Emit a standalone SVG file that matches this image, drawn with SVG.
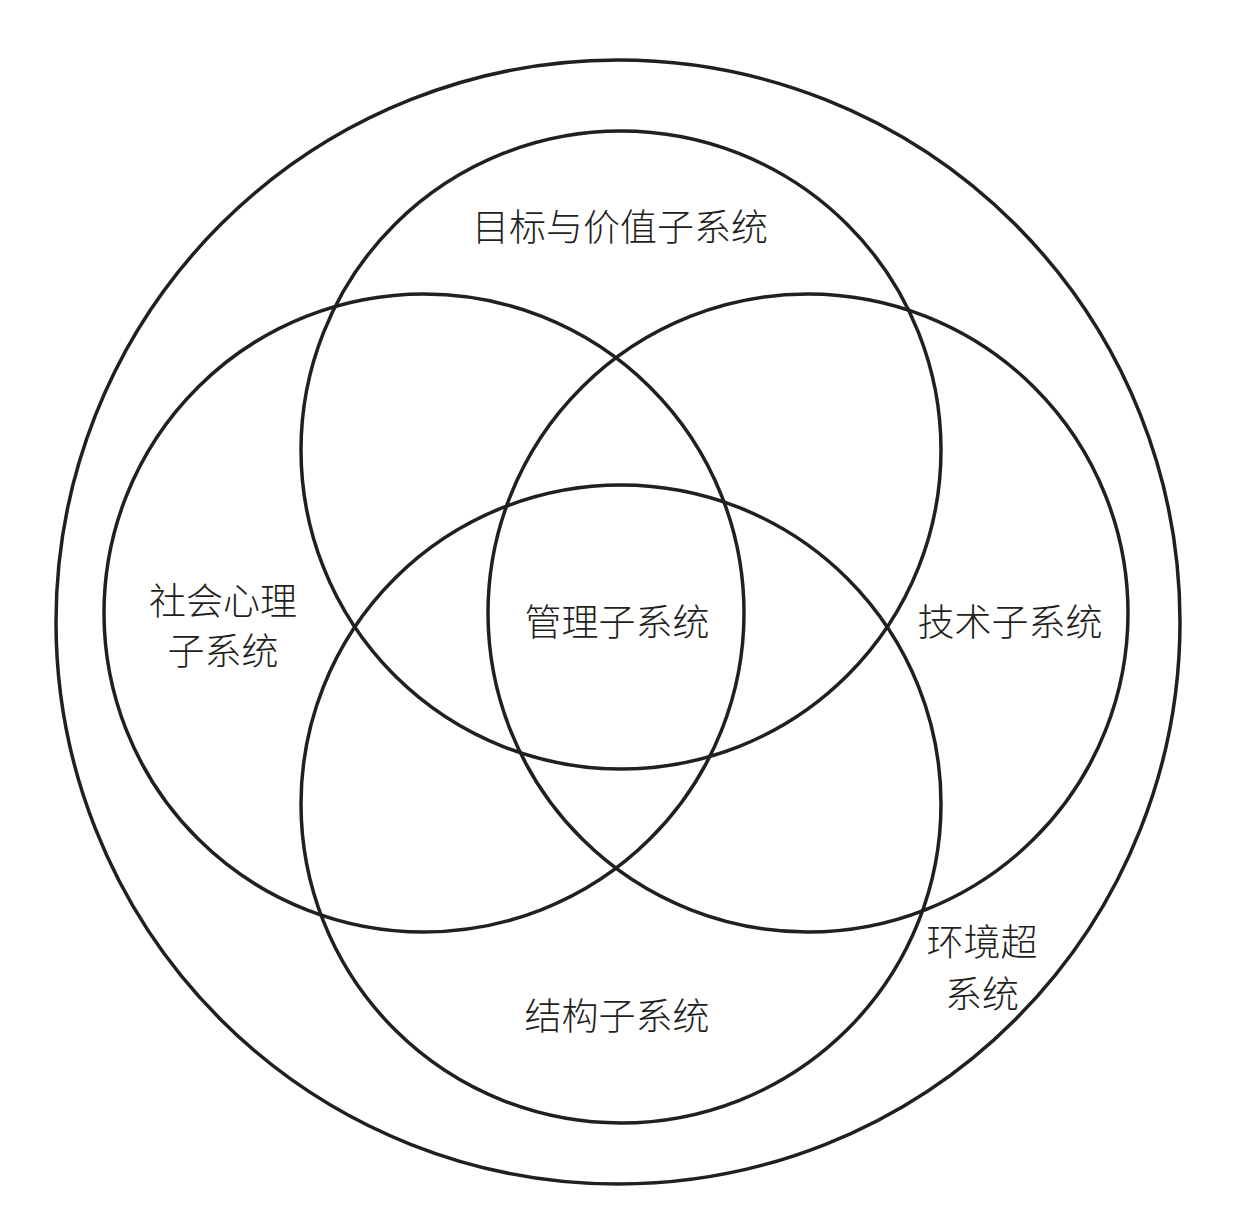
<svg xmlns="http://www.w3.org/2000/svg" width="1250" height="1212" viewBox="0 0 1250 1212">
<style>
.c{fill:none;stroke:#231f20;stroke-width:3.5}
.t{font-family:"Noto Sans CJK SC","Noto Sans",sans-serif;font-size:37px;font-weight:300;fill:#231f20;text-anchor:middle}
</style>
<rect width="1250" height="1212" fill="#fff"/>
<g id="environment">
<circle class="c" cx="618" cy="622" r="562"/>
<text class="t" x="982" y="956">环境超</text>
<text class="t" x="982" y="1008">系统</text>
</g>
<g id="goals">
<ellipse class="c" cx="621" cy="450" rx="320" ry="319"/>
<text class="t" x="620" y="241">目标与价值子系统</text>
</g>
<g id="psychosocial">
<ellipse class="c" cx="424" cy="613" rx="320" ry="319"/>
<text class="t" x="223" y="615">社会心理</text>
<text class="t" x="223" y="665">子系统</text>
</g>
<g id="technical">
<ellipse class="c" cx="808" cy="613" rx="320" ry="319"/>
<text class="t" x="1010" y="636">技术子系统</text>
</g>
<g id="structural">
<ellipse class="c" cx="621" cy="804" rx="320" ry="319"/>
<text class="t" x="617" y="1030">结构子系统</text>
</g>
<g id="managerial">
<text class="t" x="617" y="636">管理子系统</text>
</g>
<g id="connectors"/>
</svg>
